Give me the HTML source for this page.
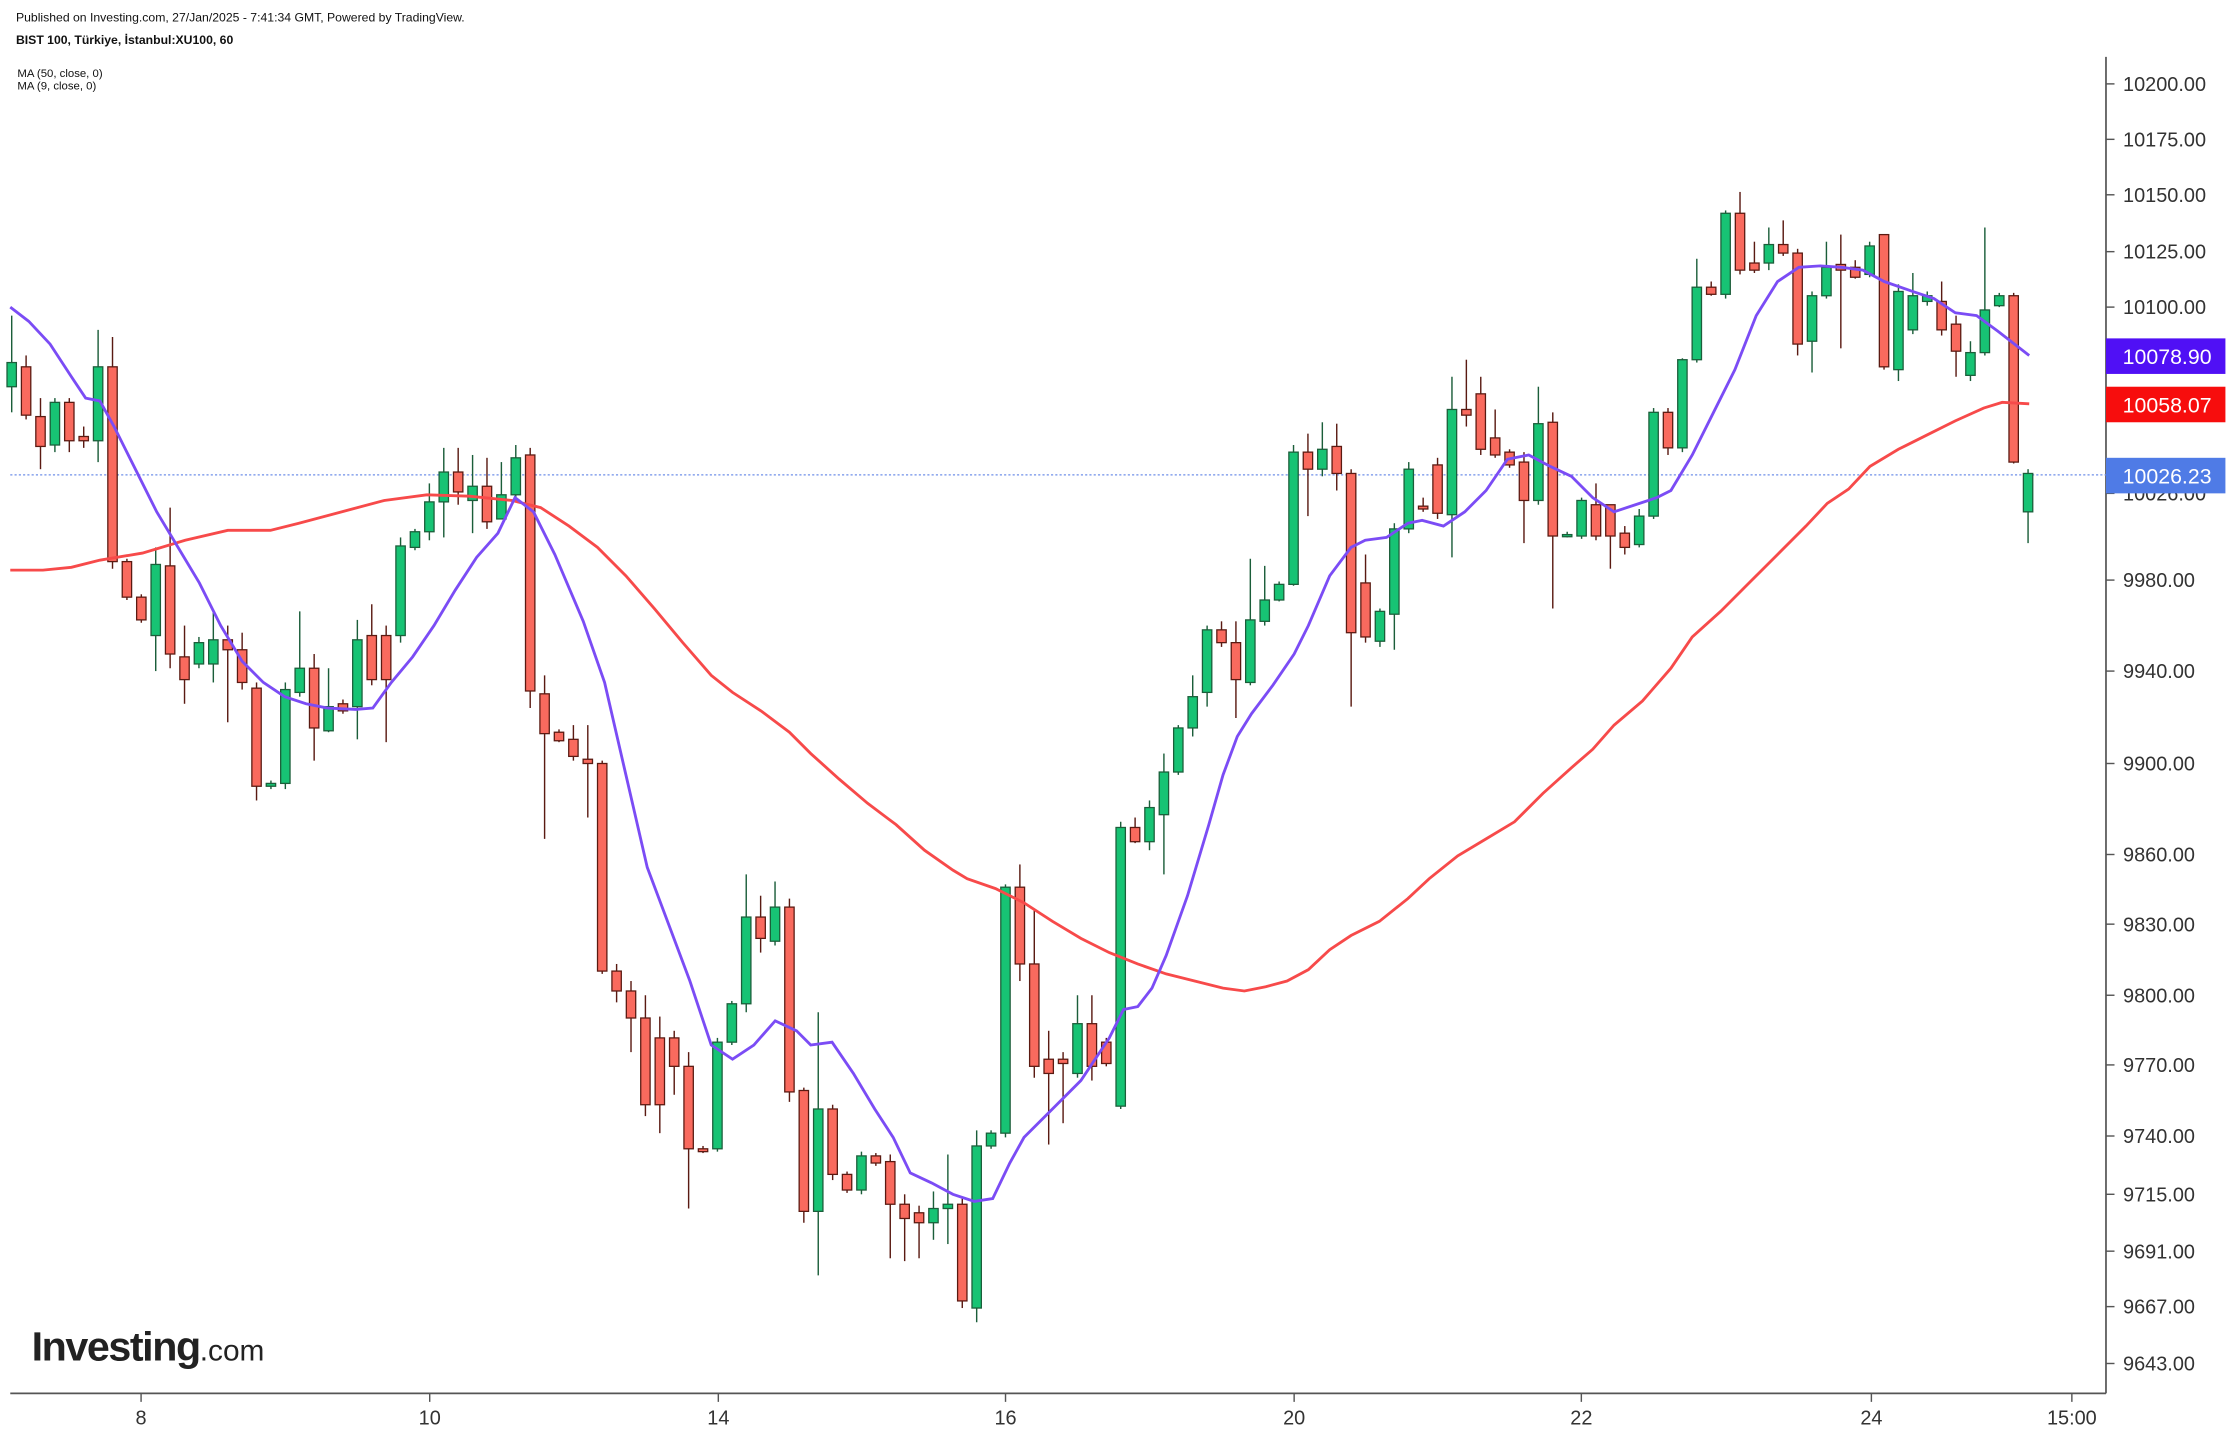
<!DOCTYPE html>
<html><head><meta charset="utf-8"><style>
html,body{margin:0;padding:0;background:#fff;width:2230px;height:1436px;overflow:hidden}
svg{display:block;font-family:"Liberation Sans",Arial,sans-serif}
</style></head><body>
<svg id="s" width="2230" height="1436" viewBox="0 0 1568 1010" xmlns="http://www.w3.org/2000/svg">
<rect width="1568" height="1010" fill="#fff"/>
<text x="11" y="15" font-size="8.6" fill="#111">Published on Investing.com, 27/Jan/2025 - 7:41:34 GMT, Powered by TradingView.</text>
<text x="11" y="31" font-size="8.6" font-weight="bold" fill="#111">BIST 100, Türkiye, İstanbul:XU100, 60</text>
<text x="12" y="54" font-size="8" fill="#111">MA (50, close, 0)</text>
<text x="12" y="63" font-size="8" fill="#111">MA (9, close, 0)</text>
<line x1="1481" y1="40" x2="1481" y2="980" stroke="#555" stroke-width="1.2"/>
<line x1="7" y1="980" x2="1481" y2="980" stroke="#555" stroke-width="1.2"/>
<line x1="7" y1="334" x2="1481" y2="334" stroke="#6f8fe8" stroke-width="0.8" stroke-dasharray="1.5,1.5"/>
<g id="yax" font-size="14" fill="#333"></g>
<g id="xax" font-size="14" fill="#333"></g>
<g id="c"></g>
<polyline id="ma50" fill="none" stroke="#f74a4a" stroke-width="2"/>
<polyline id="ma9" fill="none" stroke="#7b4cf5" stroke-width="2"/>
<rect x="1481" y="238" width="84" height="25" fill="#5010f5"/>
<text x="1524" y="256" font-size="15" fill="#fff" text-anchor="middle">10078.90</text>
<rect x="1481" y="272" width="84" height="25" fill="#f70d0d"/>
<text x="1524" y="290" font-size="15" fill="#fff" text-anchor="middle">10058.07</text>
<rect x="1481" y="322" width="84" height="25" fill="#4f7be6"/>
<text x="1524" y="340" font-size="15" fill="#fff" text-anchor="middle">10026.23</text>
<text x="22" y="957" font-size="29" font-weight="bold" fill="#222" letter-spacing="-1">Investing<tspan font-weight="normal" font-size="21" letter-spacing="0">.com</tspan></text>
</svg>
<script>
var ns="http://www.w3.org/2000/svg";
function el(p,t,a,txt){var e=document.createElementNS(ns,t);for(var k in a)e.setAttribute(k,a[k]);if(txt)e.textContent=txt;p.appendChild(e);return e;}
var ya=document.getElementById('yax');
[["10200.00",59],["10175.00",98],["10150.00",137],["10125.00",177],["10100.00",216],["10026.00",347],["9980.00",408],["9940.00",472],["9900.00",537],["9860.00",601],["9830.00",650],["9800.00",700],["9770.00",749],["9740.00",799],["9715.00",840],["9691.00",880],["9667.00",919],["9643.00",959]].forEach(function(t){
el(ya,'line',{x1:1481,x2:1487,y1:t[1],y2:t[1],stroke:'#555'});
el(ya,'text',{x:1493,y:t[1]+5},t[0]);});
var xa=document.getElementById('xax');
[["8",99],["10",302],["14",505],["16",707],["20",910],["22",1112],["24",1316],["15:00",1457]].forEach(function(t){
el(xa,'line',{x1:t[1],x2:t[1],y1:980,y2:986,stroke:'#555'});
el(xa,'text',{x:t[1],y:1002,'text-anchor':'middle'},t[0]);});
// [open, close, high, low] in y px; green if close<open
var d=[
[272,255,222,290],[258,292,250,295],[293,314,280,330],[313,283,280,318],[283,310,280,318],[307,310,300,315],[310,258,232,325],[258,395,237,400],[395,420,393,422],[420,436,418,438],
[447,397,385,472],[398,460,357,470],[462,478,440,495],[467,452,448,470],[467,450,430,480],[450,457,440,508],[457,480,445,485],[484,553,480,563],[553,551,549,555],[551,485,480,555],
[487,470,430,490],[470,512,460,535],[514,497,470,515],[495,500,492,502],[497,450,436,520],[447,478,425,482],[447,478,440,522],[447,384,378,452],[385,374,372,387],[374,353,340,380],
[353,332,315,378],[332,346,315,355],[352,342,320,375],[342,367,322,372],[365,348,325,365],[348,322,313,352],[320,486,315,498],[488,516,475,590],[515,521,513,522],[520,532,510,535],
[534,537,510,575],[537,683,535,685],[683,697,678,705],[697,716,690,740],[716,777,700,785],[730,777,715,797],[730,750,725,770],[750,808,740,850],[808,810,806,811],[808,733,730,810],
[733,706,704,735],[706,645,615,712],[645,660,630,670],[662,638,620,665],[638,768,632,775],[767,852,765,860],[852,780,712,897],[780,826,777,830],[826,837,824,839],[837,813,810,840],
[813,818,811,820],[817,847,812,885],[847,857,840,887],[853,860,848,885],[860,850,838,872],[850,847,812,875],[847,915,843,920],[920,806,795,930],[806,797,795,808],[797,624,622,800],
[624,678,608,690],[678,750,640,758],[745,755,725,805],[745,748,740,790],[755,720,700,758],[720,750,700,760],[733,748,730,750],[778,582,578,780],[582,592,575,593],[592,568,563,598],
[573,543,530,615],[543,512,510,545],[512,490,475,518],[487,443,440,497],[443,452,437,455],[452,478,437,505],[480,436,393,482],[437,422,398,440],[422,411,409,423],[411,318,313,412],
[318,330,305,363],[330,316,297,335],[314,333,298,345],[333,445,330,497],[410,448,390,452],[451,430,428,455],[432,372,368,457],[372,330,325,375],[356,358,350,360],[327,361,322,365],
[362,288,265,392],[288,292,253,300],[277,316,265,320],[308,320,288,322],[318,327,316,329],[325,352,318,382],[352,298,272,355],[297,377,290,428],[377,376,374,378],[377,352,350,379],
[355,377,340,380],[355,377,355,400],[375,385,370,390],[383,363,358,385],[363,290,287,365],[290,315,287,320],[315,253,252,318],[253,202,182,255],[202,207,198,208],[207,150,148,210],
[150,190,135,193],[185,190,170,192],[185,172,160,190],[172,178,155,180],[178,242,175,250],[240,208,205,262],[208,188,170,210],[186,190,165,245],[188,195,183,196],[193,173,170,195],
[165,258,165,260],[260,205,200,268],[232,208,192,235],[212,208,205,215],[212,232,198,236],[228,247,222,265],[264,248,240,268],[248,218,160,250],[215,208,206,216],[208,325,206,326],
[360,333,330,382]];
var g=document.getElementById('c');
d.forEach(function(c,i){var x=8+i*10.13;var up=c[1]<c[0];
var col=up?'#1b5e3a':'#5a1a12';var fill=up?'#17c374':'#f96a5e';
el(g,'line',{x1:x,x2:x,y1:c[2],y2:c[3],stroke:col,'stroke-width':1});
var t=Math.min(c[0],c[1]),h=Math.max(1.5,Math.abs(c[0]-c[1]));
el(g,'rect',{x:x-3.3,y:t,width:6.6,height:h,fill:fill,stroke:col,'stroke-width':0.9});});
document.getElementById('ma50').setAttribute('points',"7,401 30,401 50,399 70,394 100,389 130,380 160,373 190,373 210,368 240,360 270,352 300,348 330,349 360,352 380,357 400,370 420,385 440,405 460,428 480,452 500,475 515,487 535,500 555,515 570,530 590,548 610,565 630,580 650,598 670,612 680,618 700,625 720,635 740,648 760,660 780,670 800,678 820,685 840,690 860,695 875,697 890,694 905,690 920,682 935,668 950,658 970,648 990,632 1005,618 1025,602 1045,590 1065,578 1085,558 1105,540 1120,527 1135,510 1155,493 1175,470 1190,448 1210,430 1230,410 1250,390 1270,370 1285,354 1300,344 1315,328 1335,316 1355,306 1375,296 1395,287 1408,283 1427,284");
document.getElementById('ma9').setAttribute('points',"7,216 20,226 35,242 50,265 60,280 70,282 80,300 95,330 110,360 125,385 140,410 155,440 170,465 185,480 200,490 215,495 230,498 250,499 262,498 275,480 290,462 305,440 320,415 335,392 350,375 362,350 375,360 390,390 410,437 425,480 440,545 455,610 470,650 485,690 500,735 515,745 530,735 545,718 560,725 570,735 585,733 600,755 615,780 628,800 640,825 655,832 670,840 685,845 698,843 710,818 720,800 740,780 760,760 780,730 790,710 800,708 810,695 820,672 835,630 850,580 860,545 870,518 880,502 895,482 910,460 920,440 935,405 950,385 960,380 975,378 990,368 1000,366 1015,370 1030,360 1045,345 1060,323 1075,320 1090,328 1105,335 1120,350 1135,360 1150,355 1165,350 1175,345 1190,320 1205,290 1220,260 1235,222 1250,198 1265,188 1280,187 1295,188 1310,190 1325,198 1345,205 1360,210 1375,220 1390,222 1405,233 1427,250");
</script>
</body></html>
